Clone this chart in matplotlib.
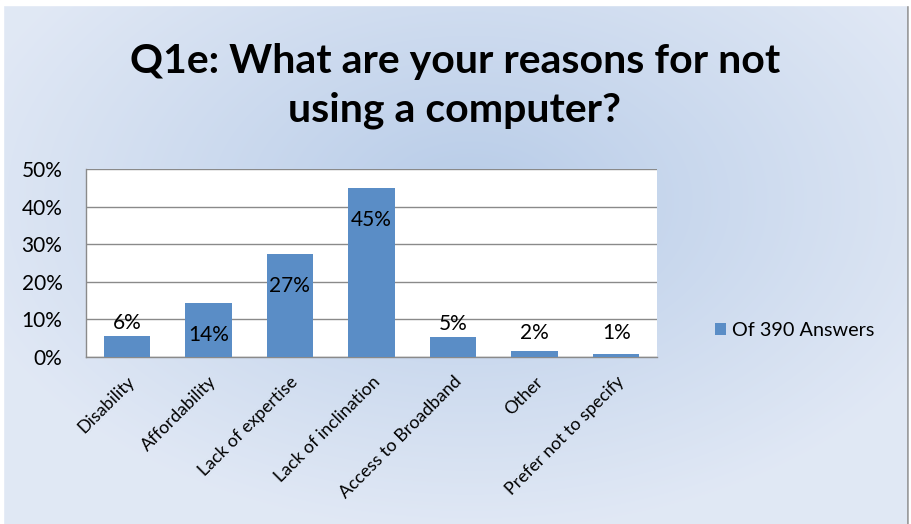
#   Q1e: reasons for not using a computer
import numpy as np
from matplotlib import pyplot as plt
from matplotlib.patches import Rectangle

razones = ['Disability', 'Affordability', 'Lack of expertise', 'Lack of inclination',
           'Access to Broadband', 'Other', 'Prefer not to specify']
porcentajes = [5.6, 14.4, 27.3, 44.9, 5.4, 1.5, 0.8]
serie = 'Of 390 Answers'
titulo = 'Q1e: What are your reasons for not\nusing a computer?'
y_ticks = [0, 10, 20, 30, 40, 50]

plt.rcParams['font.family'] = ['Lato', 'DejaVu Sans']

fig = plt.figure(figsize=(9.11, 5.24), dpi=100)
fig.patch.set_facecolor('white')

# fondo con degradado radial
fondo = fig.add_axes([0, 0, 1, 1], zorder=-10)
fondo.set_axis_off()
h, w = 524, 911
yy, xx = np.mgrid[0:h, 0:w]
d = np.sqrt(((xx - 470) / 520.0) ** 2 + ((yy - 200) / 330.0) ** 2)
d = np.clip(d, 0, 1)
centro = np.array([0.72, 0.80, 0.91])
borde = np.array([0.88, 0.91, 0.96])
img = centro[None, None, :] * (1 - d[..., None]) + borde[None, None, :] * d[..., None]
fondo.imshow(img, extent=(0, w, h, 0), aspect='auto')
fondo.set_xlim(0, w)
fondo.set_ylim(h, 0)
fondo.add_patch(Rectangle((3, 5), 905, 530, fill=False, edgecolor='#8f8f8f', lw=1.2))
fondo.add_patch(Rectangle((0, 0), 3, h, color='white'))
fondo.add_patch(Rectangle((0, 0), w, 5, color='white'))
fondo.add_patch(Rectangle((909, 0), 2, h, color='white'))

ax = fig.add_axes([86 / 911, 1 - 357 / 524, 571 / 911, 188 / 524])
ax.set_facecolor('white')

x = np.arange(len(razones))
barras = ax.bar(x, porcentajes, width=0.57, color='#5A8DC6', zorder=3)

for xi, v in zip(x, porcentajes):
    if v > 10:
        yl = v - 8.5
    else:
        yl = max(v + 3.5, 6.5)
    ax.text(xi, yl, '%d%%' % round(v), ha='center', va='center', fontsize=15,
            color='black', zorder=4)

ax.set_xlim(-0.5, len(razones) - 0.5)
ax.set_ylim(0, 50)
ax.set_yticks(y_ticks)
ax.set_yticklabels(['%d%%' % t for t in y_ticks], fontsize=15)
ax.yaxis.grid(True, color='#8a8a8a', lw=1, zorder=0)
ax.tick_params(axis='y', length=0, pad=17)
ax.tick_params(axis='x', length=0, pad=12)
ax.set_xticks(x)
ax.set_xticklabels(razones, rotation=45, ha='right', rotation_mode='anchor',
                   fontsize=12.8)
for s in ['top', 'right']:
    ax.spines[s].set_visible(False)
for s in ['left', 'bottom']:
    ax.spines[s].set_color('#8a8a8a')
    ax.spines[s].set_linewidth(1)

ax.legend([barras], [serie], loc='center left', bbox_to_anchor=(697 / 911, 1 - 331 / 524),
          bbox_transform=fig.transFigure, frameon=False, fontsize=14.3,
          handlelength=0.55, handleheight=0.55, handletextpad=0.3)

fig.text(455 / 911, 1 - 86 / 524, titulo, ha='center', va='center', fontsize=29.5,
         fontweight='bold', linespacing=1.4)

fig.savefig('out.png', dpi=100)
